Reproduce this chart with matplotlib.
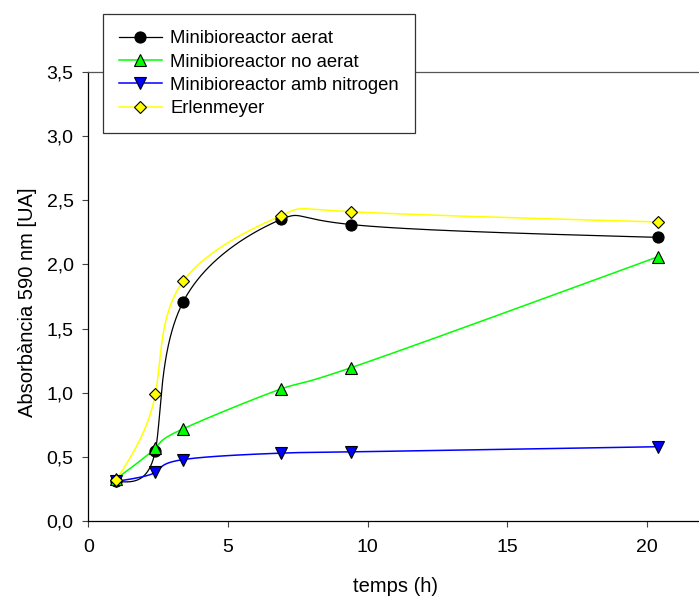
import numpy as np
import matplotlib.pyplot as plt
from matplotlib.ticker import FuncFormatter

plt.rcParams['font.family'] = ['Liberation Sans', 'DejaVu Sans']

# temps (h)
temps = [1.0, 2.4, 3.4, 6.9, 9.4, 20.4]

# Absorbància 590 nm per condició
aerat = [0.31, 0.55, 1.71, 2.35, 2.31, 2.21]
no_aerat = [0.33, 0.57, 0.72, 1.03, 1.195, 2.06]
nitrogen = [0.31, 0.38, 0.48, 0.53, 0.54, 0.58]
erlenmeyer = [0.32, 0.99, 1.87, 2.38, 2.41, 2.33]

labels = ['Minibioreactor aerat', 'Minibioreactor no aerat',
          'Minibioreactor amb nitrogen', 'Erlenmeyer']


def nat_spline(t, y, ts):
    # natural cubic spline y(t) evaluated at ts
    h = np.diff(t)
    m = len(t)
    A = np.zeros((m, m))
    b = np.zeros(m)
    A[0, 0] = A[-1, -1] = 1
    for i in range(1, m - 1):
        A[i, i - 1] = h[i - 1]
        A[i, i] = 2 * (h[i - 1] + h[i])
        A[i, i + 1] = h[i]
        b[i] = 6 * ((y[i + 1] - y[i]) / h[i] - (y[i] - y[i - 1]) / h[i - 1])
    M = np.linalg.solve(A, b)
    k = np.clip(np.searchsorted(t, ts) - 1, 0, m - 2)
    t0 = t[k + 1] - ts
    t1 = ts - t[k]
    hk = h[k]
    return (M[k] * t0**3 + M[k + 1] * t1**3) / (6 * hk) \
        + (y[k] / hk - M[k] * hk / 6) * t0 \
        + (y[k + 1] / hk - M[k + 1] * hk / 6) * t1


def smooth(x, y, sx, sy, alpha=0.0, n=800):
    # parametric spline through the points (alpha 0 uniform, 0.5 centripetal)
    x = np.asarray(x, float)
    y = np.asarray(y, float)
    d = np.hypot(np.diff(x) * sx, np.diff(y) * sy) ** alpha
    t = np.concatenate([[0], np.cumsum(d)])
    ts = np.linspace(0, t[-1], n)
    return nat_spline(t, x, ts), nat_spline(t, y, ts)


fig = plt.figure(figsize=(6.99, 5.96), dpi=100)
W, H = 699, 596
x0, x1 = 88.3, 703.0
y0, y1 = 521.2, 71.7
ax = fig.add_axes([x0 / W, 1 - y0 / H, (x1 - x0) / W, (y0 - y1) / H])
sx = (x1 - x0) / 22
sy = (y0 - y1) / 3.5

series = [
    (aerat, 'black', 'o', 8, 0.9),
    (no_aerat, '#00ff00', '^', 8.6, 1.1),
    (nitrogen, '#0000ff', 'v', 8.6, 1.1),
    (erlenmeyer, '#ffff00', 'D', 6, 1.1),
]

for (vals, col, mk, ms, lw), lab in zip(series, labels):
    xs, ys = smooth(temps, vals, sx, sy, alpha=0.0)
    ax.plot(xs, ys, color=col, lw=lw, zorder=2)
    ax.plot(temps, vals, ls='none', marker=mk, ms=ms, mfc=col, mec='black',
            mew=0.8, zorder=3)
    ax.plot([], [], color=col, lw=lw, marker=mk, ms=ms, mfc=col,
            mec='black', mew=0.8, label=lab)

ax.set_xlim(0, 22)
ax.set_ylim(0, 3.5)
ax.set_xticks([0, 5, 10, 15, 20])
ax.set_yticks(np.arange(0, 3.51, 0.5))
ax.yaxis.set_major_formatter(FuncFormatter(lambda v, p: f'{v:.1f}'.replace('.', ',')))

ax.spines['right'].set_visible(False)
ax.spines['top'].set_color('#555555')
for s in ['left', 'bottom', 'top']:
    ax.spines[s].set_linewidth(0.9)
ax.tick_params(axis='both', direction='out', length=4.5, width=0.8,
               color='#444444', labelsize=14)
ax.tick_params(axis='x', pad=8)
ax.tick_params(axis='y', pad=6)

ax.set_xlabel('temps (h)', fontsize=14.5)
ax.set_ylabel('Absorbància 590 nm [UA]', fontsize=14.5)
ax.xaxis.set_label_coords(0.5, (y0 - 577) / (y0 - y1))
ax.yaxis.set_label_coords((36.7 - x0) / (x1 - x0), 0.488)

leg = fig.legend(loc='upper left', bbox_to_anchor=(103 / W, 1 - 14 / H),
                 bbox_transform=fig.transFigure, borderaxespad=0,
                 fontsize=13.3, numpoints=1, handlelength=2.3,
                 handletextpad=0.47, labelspacing=0.34, borderpad=0.88,
                 fancybox=False, framealpha=1, edgecolor='#333333')
leg.get_frame().set_linewidth(0.9)

fig.savefig('out.png', dpi=100)
